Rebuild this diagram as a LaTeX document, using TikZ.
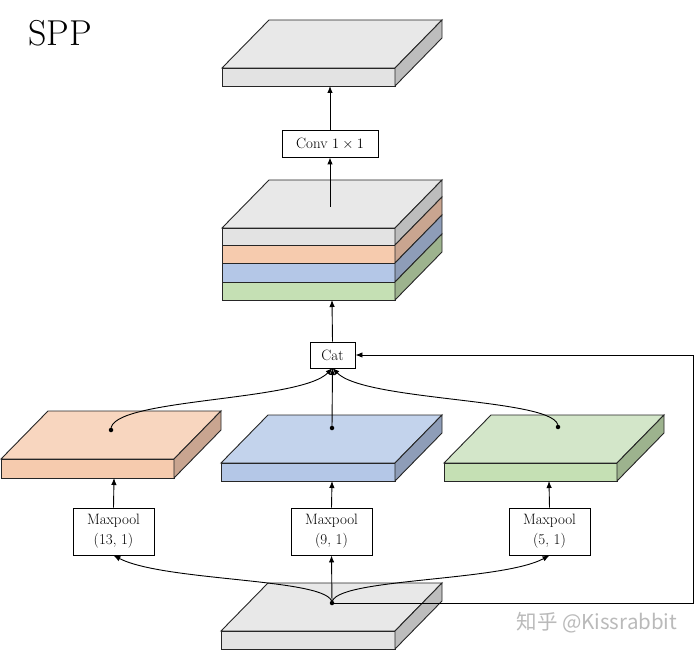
\documentclass[tikz,border=0pt]{standalone}
\usepackage{fontspec}
\usetikzlibrary{arrows.meta}
\newfontfamily\cjk{Noto Sans CJK SC}
\definecolor{gTop}{HTML}{E8E8E8}
\definecolor{gFront}{HTML}{E3E3E3}
\definecolor{gSide}{HTML}{BDBDBD}
\definecolor{oTop}{HTML}{F8D6BF}
\definecolor{oFront}{HTML}{F6CBAE}
\definecolor{oSide}{HTML}{C9A590}
\definecolor{bTop}{HTML}{C3D3EC}
\definecolor{bFront}{HTML}{B4C7E7}
\definecolor{bSide}{HTML}{8E9DB8}
\definecolor{grTop}{HTML}{D3E6C9}
\definecolor{grFront}{HTML}{C5E0B4}
\definecolor{grSide}{HTML}{9DB38E}
% \slab{x}{y}{w}{h}{top}{front}{side}: front face top-left at (x,y)
\newcommand{\slab}[7]{%
  \filldraw[edge,fill=#5] (#1,#2) -- ++(47,-48) -- ++(#3,0) -- ++(-47,48) -- cycle;
  \filldraw[edge,fill=#6] (#1,#2) rectangle ++(#3,#4);
  \filldraw[edge,fill=#7] (#1+#3,#2) -- ++(47,-48) -- ++(0,#4) -- ++(-47,48) -- cycle;
}
% \layer{x}{y}{w}{h}{front}{side}
\newcommand{\layer}[6]{%
  \filldraw[edge,fill=#5] (#1,#2) rectangle ++(#3,#4);
  \filldraw[edge,fill=#6] (#1+#3,#2) -- ++(47,-48) -- ++(0,#4) -- ++(-47,48) -- cycle;
}
\tikzset{
  edge/.style={draw=black!85,line width=0.9pt},
  arr/.style={-{Latex[length=7pt,width=5.5pt]},line width=0.9pt,black},
  box/.style={draw,line width=0.9pt,fill=white,inner sep=0pt,align=center,font=\fontsize{15}{20}\selectfont},
  dotmark/.style={circle,fill=black,inner sep=0pt,minimum size=4.5pt}
}
\begin{document}
\begin{tikzpicture}[x=1pt,y=-1pt]
\useasboundingbox (0,0) rectangle (694,650);
\fill[white] (0,0) rectangle (694,650);

\node[font=\fontsize{36}{40}\selectfont] (title) at (60,33) {SPP};

% top block
\slab{222}{68}{173}{18}{gTop}{gFront}{gSide}
\coordinate (topb) at (330,86);

% stacked block
\filldraw[edge,fill=gTop] (222,228) -- ++(47,-48) -- ++(173,0) -- ++(-47,48) -- cycle;
\layer{222}{228}{173}{17}{gFront}{gSide}
\layer{222}{245}{173}{18}{oFront}{oSide}
\layer{222}{263}{173}{19}{bFront}{bSide}
\layer{222}{282}{173}{18}{grFront}{grSide}
\coordinate (stacktop) at (330,207);
\coordinate (stackbot) at (332,300);

% three pooled blocks
\slab{1}{459}{173}{19}{oTop}{oFront}{oSide}
\slab{221}{463}{174}{18}{bTop}{bFront}{bSide}
\slab{444}{463}{173}{18}{grTop}{grFront}{grSide}
\coordinate (obot) at (114,478);
\coordinate (bbot) at (332,481);
\coordinate (gbot) at (549,481);

% bottom block
\slab{221}{631}{174}{18}{gTop}{gFront}{gSide}

% boxes
\node[box,minimum width=96pt,minimum height=27pt] (conv) at (330,143.5) {Conv $1\times1$};
\node[box,minimum width=45pt,minimum height=26pt] (cat) at (332.5,355) {Cat};
\node[box,minimum width=81pt,minimum height=47pt] (mp1) at (113.5,531.5) {Maxpool\\(13, 1)};
\node[box,minimum width=81pt,minimum height=47pt] (mp2) at (331.5,531.5) {Maxpool\\(9, 1)};
\node[box,minimum width=81pt,minimum height=47pt] (mp3) at (549.5,531.5) {Maxpool\\(5, 1)};

% dots
\node[dotmark] (od) at (111,430) {};
\node[dotmark] (bd) at (332,428) {};
\node[dotmark] (gd) at (558,427) {};
\node[dotmark] (src) at (332,603) {};
\coordinate (catin) at (332.5,368);
\coordinate (corner) at (693,603);

% connectors
\draw[arr] (conv.north) -- (topb);
\draw[arr] (stacktop) -- (conv.south);
\draw[arr] (cat.north) -- (stackbot);
\draw[arr] (bd.center) -- (catin);
\draw[arr] (od.center) .. controls (108,398) and (300,402) .. (catin);
\draw[arr] (gd.center) .. controls (561,398) and (365,402) .. (catin);
\draw[arr] (mp1.north) -- (obot);
\draw[arr] (mp2.north) -- (bbot);
\draw[arr] (mp3.north) -- (gbot);
\draw[arr] (src.center) -- (mp2.south);
\draw[arr] (src.center) .. controls (332,578) and (165,582) .. (mp1.south);
\draw[arr] (src.center) .. controls (332,578) and (500,582) .. (mp3.south);
\draw[arr] (src.center) -- (corner) |- (cat.east);

% watermark
\node[text=black!27,font=\cjk\fontsize{20.5}{24}\selectfont,anchor=west] (wm) at (513,623) {知乎 @Kissrabbit};
\end{tikzpicture}
\end{document}
